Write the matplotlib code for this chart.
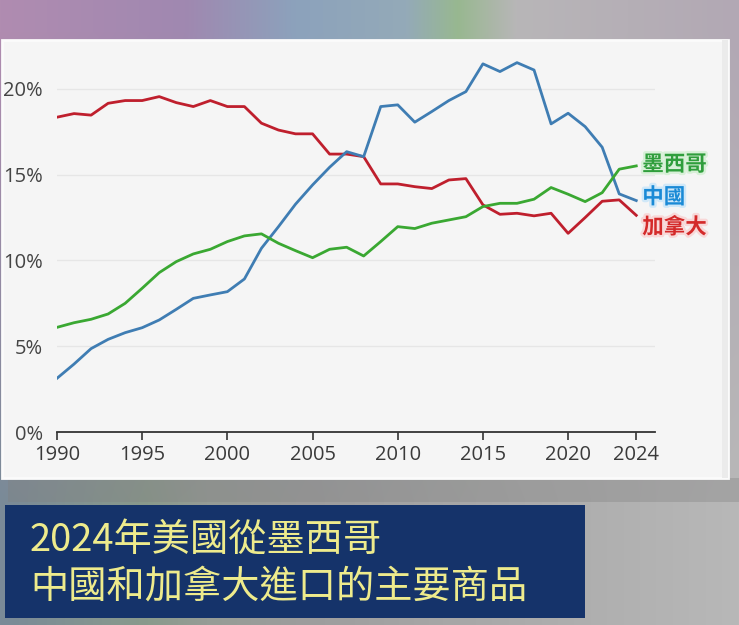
import numpy as np
import matplotlib.pyplot as plt
import matplotlib.patheffects as pe
from matplotlib.patches import Rectangle

plt.rcParams['font.family'] = ['Open Sans', 'Noto Sans CJK TC', 'DejaVu Sans']

# data (% share of US imports)
years = list(range(1990, 2025))
canada = [18.35, 18.56, 18.47, 19.16, 19.32, 19.32, 19.55, 19.2, 18.97, 19.32,
          18.97, 18.97, 18.0, 17.6, 17.38, 17.38, 16.2, 16.2, 16.05, 14.46,
          14.46, 14.3, 14.19, 14.69, 14.77, 13.24, 12.69, 12.75, 12.6, 12.75,
          11.58, 12.5, 13.45, 13.53, 12.63]
china = [3.13, 3.96, 4.86, 5.4, 5.79, 6.08, 6.53, 7.15, 7.79, 7.99,
         8.18, 8.92, 10.71, 11.97, 13.28, 14.4, 15.43, 16.34, 16.05, 18.97,
         19.07, 18.06, 18.68, 19.32, 19.84, 21.46, 21.01, 21.53, 21.1, 17.96,
         18.58, 17.8, 16.6, 13.88, 13.49]
mexico = [6.1, 6.37, 6.57, 6.88, 7.5, 8.38, 9.29, 9.93, 10.38, 10.65,
          11.1, 11.43, 11.55, 11.0, 10.57, 10.16, 10.65, 10.77, 10.26, 11.1,
          11.97, 11.86, 12.17, 12.36, 12.55, 13.14, 13.33, 13.33, 13.57, 14.25,
          13.86, 13.43, 13.95, 15.32, 15.51]
xticks = [1990, 1995, 2000, 2005, 2010, 2015, 2020, 2024]
yticks = [0, 5, 10, 15, 20]
names = ['墨西哥', '中國', '加拿大']
title_lines = ['2024年美國從墨西哥', '中國和加拿大進口的主要商品']

W, H = 739, 625
fig = plt.figure(figsize=(W / 100, H / 100), dpi=100)


def px(x, y, w, h):
    # pixel box (top-left origin) -> figure fraction
    return (x / W, 1 - (y + h) / H, w / W, h / H)


# blurred photo-like background
def hex2rgb(c):
    return np.array([int(c[i:i + 2], 16) / 255 for i in (1, 3, 5)])


xs = np.linspace(0, 1, W)
top_stops = [0, 0.25, 0.4, 0.55, 0.62, 0.7, 1.0]
top_cols = ['#b08cb0', '#a088b0', '#8ca2bc', '#94aab8', '#98b890', '#b8b6b8', '#b2a8b4']
bot_stops = [0, 0.2, 0.28, 0.4, 0.6, 1.0]
bot_cols = ['#7a8a98', '#8a9a8c', '#969c96', '#9c9c9c', '#a6a6a6', '#b8b8b8']
top = np.stack([np.interp(xs, top_stops, [hex2rgb(c)[k] for c in top_cols]) for k in range(3)], -1)
bot = np.stack([np.interp(xs, bot_stops, [hex2rgb(c)[k] for c in bot_cols]) for k in range(3)], -1)
t = np.linspace(0, 1, H)[:, None, None]
t = np.clip((t - 0.05) / 0.75, 0, 1)
bg_img = top[None] * (1 - t) + bot[None] * t
bg = fig.add_axes([0, 0, 1, 1], zorder=-10)
bg.imshow(bg_img, aspect='auto', extent=(0, 1, 0, 1))
bg.axis('off')

# shadow under panel, panel, title box
fig.patches.append(Rectangle(px(8, 478, 731, 24)[:2], 731 / W, 24 / H, transform=fig.transFigure,
                             color='#808080', alpha=0.35, zorder=-6, lw=0))
fig.patches.append(Rectangle(px(2, 40, 726, 438)[:2], 726 / W, 438 / H, transform=fig.transFigure,
                             facecolor='#f5f5f5', edgecolor='#fbfbfb', lw=2, zorder=-5))
fig.patches.append(Rectangle(px(722, 40, 6, 438)[:2], 6 / W, 438 / H, transform=fig.transFigure,
                             color='#ebebeb', zorder=-4, lw=0))
fig.patches.append(Rectangle(px(5, 505, 580, 113)[:2], 580 / W, 113 / H, transform=fig.transFigure,
                             color='#15336a', zorder=-4, lw=0))

ax = fig.add_axes(px(57, 46, 598, 386))
ax.set_facecolor('none')
ax.plot(years, canada, color='#bf1f2d', lw=2.0, zorder=3)
ax.plot(years, china, color='#3f7db3', lw=2.0, zorder=3)
ax.plot(years, mexico, color='#3aa832', lw=2.0, zorder=3)

ax.set_xlim(1990, 2025.1)
ax.set_ylim(0, 22.5)
ax.set_xticks(xticks)
ax.set_yticks(yticks)
ax.set_yticklabels([f'{v}%' for v in yticks])
ax.tick_params(axis='x', direction='out', length=6, width=1.2, color='#333333',
               labelsize=14.5, labelcolor='#3a3a3a', pad=3)
ax.tick_params(axis='y', length=0, labelsize=14.5, labelcolor='#444444', pad=10)
ax.grid(axis='y', color='#e6e6e6', lw=1)
for s in ['top', 'right', 'left']:
    ax.spines[s].set_visible(False)
ax.spines['bottom'].set_color('#333333')
ax.spines['bottom'].set_linewidth(1.3)

label_cols = ['#2f9e3c', '#1a8ad6', '#d42a2a']
glow_cols = ['#d8f0d8', '#d0e8f8', '#f8d8d8']
label_y = [15.6, 13.7, 11.95]
for n, yv, c, g in zip(names, label_y, label_cols, glow_cols):
    ax.text(2024.35, yv, n, color=c, fontsize=15.5, fontweight='bold', va='center', ha='left',
            family=['Noto Sans CJK TC'], clip_on=False,
            path_effects=[pe.withStroke(linewidth=3.5, foreground=g)])

fig.text(30 / W, 1 - 540 / H, title_lines[0], color='#eeeb8c', fontsize=27.5, fontweight='medium',
         family=['Noto Sans CJK TC'], va='center', ha='left')
fig.text(30 / W, 1 - 587 / H, title_lines[1], color='#eeeb8c', fontsize=27.5, fontweight='medium',
         family=['Noto Sans CJK TC'], va='center', ha='left')

fig.savefig('out.png', dpi=100)
